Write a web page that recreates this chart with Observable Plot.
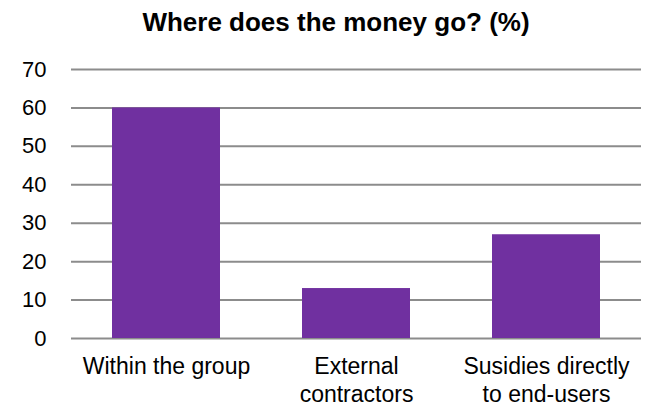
<!DOCTYPE html>
<html>
<head>
<meta charset="utf-8">
<script src="https://cdn.jsdelivr.net/npm/d3@7"></script>
<script src="https://cdn.jsdelivr.net/npm/@observablehq/plot@0.6"></script>
<style>
  html, body { margin: 0; padding: 0; background: #fff; }
  #title { height: 50px; line-height: 44px; text-align: center; padding-left: 23px; width: 626px;
           font-family: "Liberation Sans", Arial, sans-serif; font-weight: bold; font-size: 26px; color: #000; }
</style>
</head>
<body>
<div id="title">Where does the money go? (%)</div>
<div id="chart"></div>
<script>
const categories = ["Within the group", "External\ncontractors", "Susidies directly\nto end-users"];
const values = [60, 13, 27];
const yTicks = [0, 10, 20, 30, 40, 50, 60, 70];

const data = categories.map((c, i) => ({category: c, value: values[i]}));

const chart = Plot.plot({
  width: 649,
  height: 354,
  marginTop: 19,
  marginBottom: 66,
  marginLeft: 71,
  marginRight: 8,
  style: {fontFamily: "'Liberation Sans', Arial, sans-serif", fontSize: "22px", color: "#000", background: "#fff"},
  x: {domain: categories, paddingInner: 0.43, paddingOuter: 0.215, label: null},
  y: {domain: [0, 70], label: null},
  marks: [
    Plot.ruleY(yTicks, {stroke: "#8c8c8c", strokeWidth: 2, strokeOpacity: 1}),
    Plot.barY(data, {x: "category", y: "value", fill: "#7030A0"}),
    Plot.axisY(yTicks, {tickSize: 0, tickPadding: 25, fontSize: 22, label: null}),
    Plot.axisX({tickSize: 0, tickPadding: 16, fontSize: 23, label: null, lineHeight: 1.2})
  ]
});
document.getElementById("chart").appendChild(chart);
</script>
</body>
</html>
